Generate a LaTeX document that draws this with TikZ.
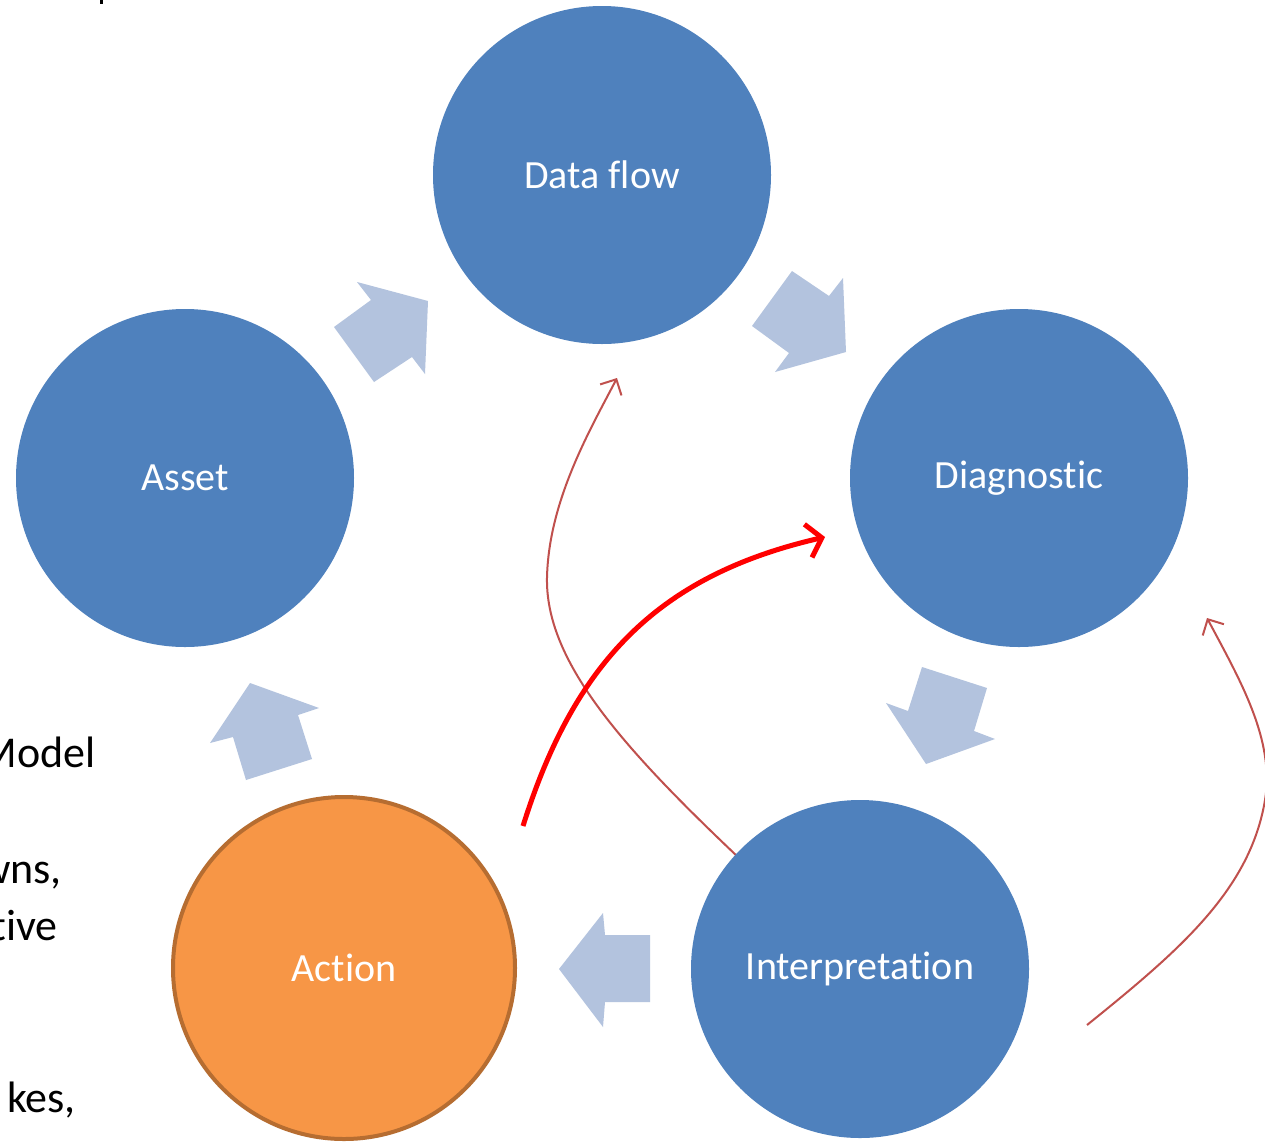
\documentclass[tikz,border=0pt]{standalone}
\usepackage{fontspec}
\setmainfont[Ligatures=NoCommon]{Carlito}
\usetikzlibrary{arrows.meta}
\definecolor{cblue}{HTML}{4F81BD}
\definecolor{corange}{HTML}{F79646}
\definecolor{cbrown}{HTML}{B66D31}
\definecolor{cshape}{HTML}{B3C3DE}
\definecolor{cthin}{HTML}{C0504D}
\begin{document}
\begin{tikzpicture}[x=1pt,y=-1pt,
  stage/.style={circle, minimum size=338pt, inner sep=0pt, fill=cblue, text=white,
    font=\fontsize{40}{48}\selectfont},
  actionstage/.style={stage, fill=corange, draw=cbrown, line width=4pt, minimum size=342pt},
  blockarrow/.style={fill=cshape},
  thinlink/.style={draw=cthin, line width=2pt, -{Straight Barb[length=12pt,width=24pt]}},
  thicklink/.style={draw=red, line width=5pt, -{Straight Barb[length=14pt,width=34pt]}},
  sidetext/.style={anchor=base east, inner sep=0pt, font=\fontsize{44}{57}\selectfont}]
\useasboundingbox (0,0) rectangle (1265,1141);
\clip (0,0) rectangle (1265,1141);
\fill[white] (0,0) rectangle (1265,1141);

% partial text at the left edge
\node[sidetext] (t1) at (96,767) {Model};
\node[sidetext] (t2) at (62,883) {wns,};
\node[sidetext] (t3) at (58,940) {tive};
\node[sidetext] (t4) at (76,1112) {kes,};
\fill (100,0) rectangle (103,4);

% thin and thick red links (drawn below the circles)
\coordinate (a1) at (738,857);
\coordinate (a2) at (617,378);
\coordinate (b1) at (1087,1025);
\coordinate (b2) at (1207,618);
\coordinate (c1) at (523,826);
\coordinate (c2) at (825,537);
\draw[thinlink] (a1) .. controls (620,745) and (545,660) .. (547,577)
                     .. controls (549,500) and (590,430) .. (a2);
\draw[thinlink] (b1) .. controls (1180,950) and (1250,890) .. (1265,800)
                     .. controls (1275,740) and (1240,680) .. (b2);

% circles
\node[stage] (df) at (602,175) {Data flow};
\node[stage] (as) at (185,478) {Asset};
\node[stage] (di) at (1019,478) {Diagnostic};
\node[stage] (in) at (860,969) {Interpretation};
\node[actionstage] (ac) at (344,968) {Action};

\draw[thicklink] (c1) .. controls (575,660) and (660,575) .. (c2);

% block arrows
\fill[blockarrow] (357,282) -- (428,301) -- (425,374) -- (412,357) -- (374,382) -- (334,327) -- (371,300) -- cycle;
\fill[blockarrow] (792,271) -- (829,296) -- (843,278) -- (846,352) -- (775,372) -- (789,353) -- (752,326) -- cycle;
\fill[blockarrow] (922,667) -- (987,688) -- (974,731) -- (995,739) -- (926,764) -- (886,703) -- (908,711) -- cycle;
\fill[blockarrow] (559,969) -- (603,913) -- (605,935) -- (650,935) -- (650,1002) -- (605,1002) -- (603,1027) -- cycle;
\fill[blockarrow] (250,683) -- (319,708) -- (298,715) -- (312,759) -- (246,780) -- (233,737) -- (210,743) -- cycle;
\end{tikzpicture}
\end{document}
